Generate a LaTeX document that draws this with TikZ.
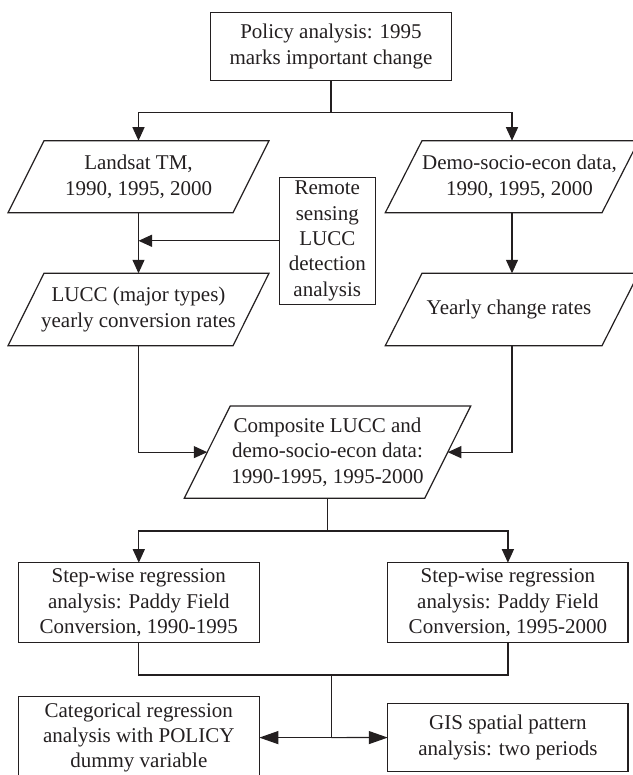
\documentclass[tikz,border=0pt]{standalone}
\usepackage{fontspec}
\setmainfont{Liberation Serif}
\usetikzlibrary{arrows.meta}
\definecolor{ink}{RGB}{35,31,32}
\newcommand\drawpg[2]{\draw[ink, line width=1.2pt, line join=miter]
  ([xshift=#2]#1.north west) -- ([xshift=#2]#1.north east) --
  ([xshift=-#2]#1.south east) -- ([xshift=-#2]#1.south west) -- cycle;}
\begin{document}
\begin{tikzpicture}[x=1pt,y=-1pt,
  every node/.style={font=\fontsize{21}{25.3}\selectfont, text=ink, align=center, inner sep=0pt, outer sep=0pt},
  box/.style={draw=ink, line width=1.2pt},
  ln/.style={draw=ink, line width=1.2pt},
  arr/.style={ln, -{Triangle[length=13.5pt,width=12pt]}},
  arrl/.style={ln, -{Triangle[length=19pt,width=13pt]}}]
\useasboundingbox (0,0) rectangle (632,775);
% nodes
\node[box, minimum width=240.6pt, minimum height=68pt, font=\fontsize{21}{26.5}\selectfont] (pol) at (331,46.7) {Policy analysis: 1995\\marks important change};
\node[minimum width=225pt, minimum height=72pt] (land) at (138.5,176.7) {Landsat TM,\\1990, 1995, 2000};
\node[minimum width=216.7pt, minimum height=72pt] (demo) at (512,176.7) {\hspace*{15pt}Demo-socio-econ data,\\\hspace*{15pt}1990, 1995, 2000};
\node[box, minimum width=96pt, minimum height=127pt] (rs) at (327.3,240.8) {Remote\\sensing\\LUCC\\detection\\analysis};
\node[minimum width=225pt, minimum height=72.4pt] (lucc) at (138.5,309.5) {LUCC (major types)\\yearly conversion rates};
\node[minimum width=216.7pt, minimum height=72.4pt] (year) at (512,309.5) {\hspace*{-6pt}Yearly change rates};
\node[minimum width=240.5pt, minimum height=92.3pt] (comp) at (327.5,452.15) {Composite LUCC and\\demo-socio-econ data:\\1990-1995, 1995-2000};
\node[box, minimum width=241pt, minimum height=80pt] (sw1) at (138.8,602.7) {Step-wise regression\\analysis: Paddy Field\\Conversion, 1990-1995};
\node[box, minimum width=240.3pt, minimum height=80pt] (sw2) at (507.9,602.7) {Step-wise regression\\analysis: Paddy Field\\Conversion, 1995-2000};
\node[box, minimum width=241pt, minimum height=81.8pt] (cat) at (138.8,737.6) {Categorical regression\\analysis with POLICY\\dummy variable};
\node[box, minimum width=240.3pt, minimum height=68.4pt] (gis) at (507.9,737.5) {GIS spatial pattern\\analysis: two periods};
% parallelogram outlines
\drawpg{land}{18pt}
\drawpg{demo}{18.35pt}
\drawpg{lucc}{18pt}
\drawpg{year}{18.35pt}
\drawpg{comp}{23pt}
% connectors
\coordinate (j1) at (331,112.7);
\coordinate (j2) at (327.5,531);
\coordinate (j3) at (331.3,675);
\coordinate (j4) at (331.3,737.6);
\draw[ln] (pol) -- (j1);
\draw[arr] (j1) -| (land);
\draw[arr] (j1) -| (demo);
\draw[arr] (land) -- (lucc);
\draw[arr] (rs.west) -- (rs.west -| land.center);
\draw[arr] (demo) -- (year);
\draw[arr] (lucc) |- (comp);
\draw[arr] (year) |- (comp);
\draw[ln] (comp) -- (j2);
\draw[arr] (j2) -| (sw1);
\draw[arr] (j2) -| (sw2);
\draw[ln] (sw1) |- (j3) -| (sw2);
\draw[ln] (j3) -- (j4);
\draw[arrl] (j4) -- (cat);
\draw[arrl] (j4) -- (gis);
\end{tikzpicture}
\end{document}
